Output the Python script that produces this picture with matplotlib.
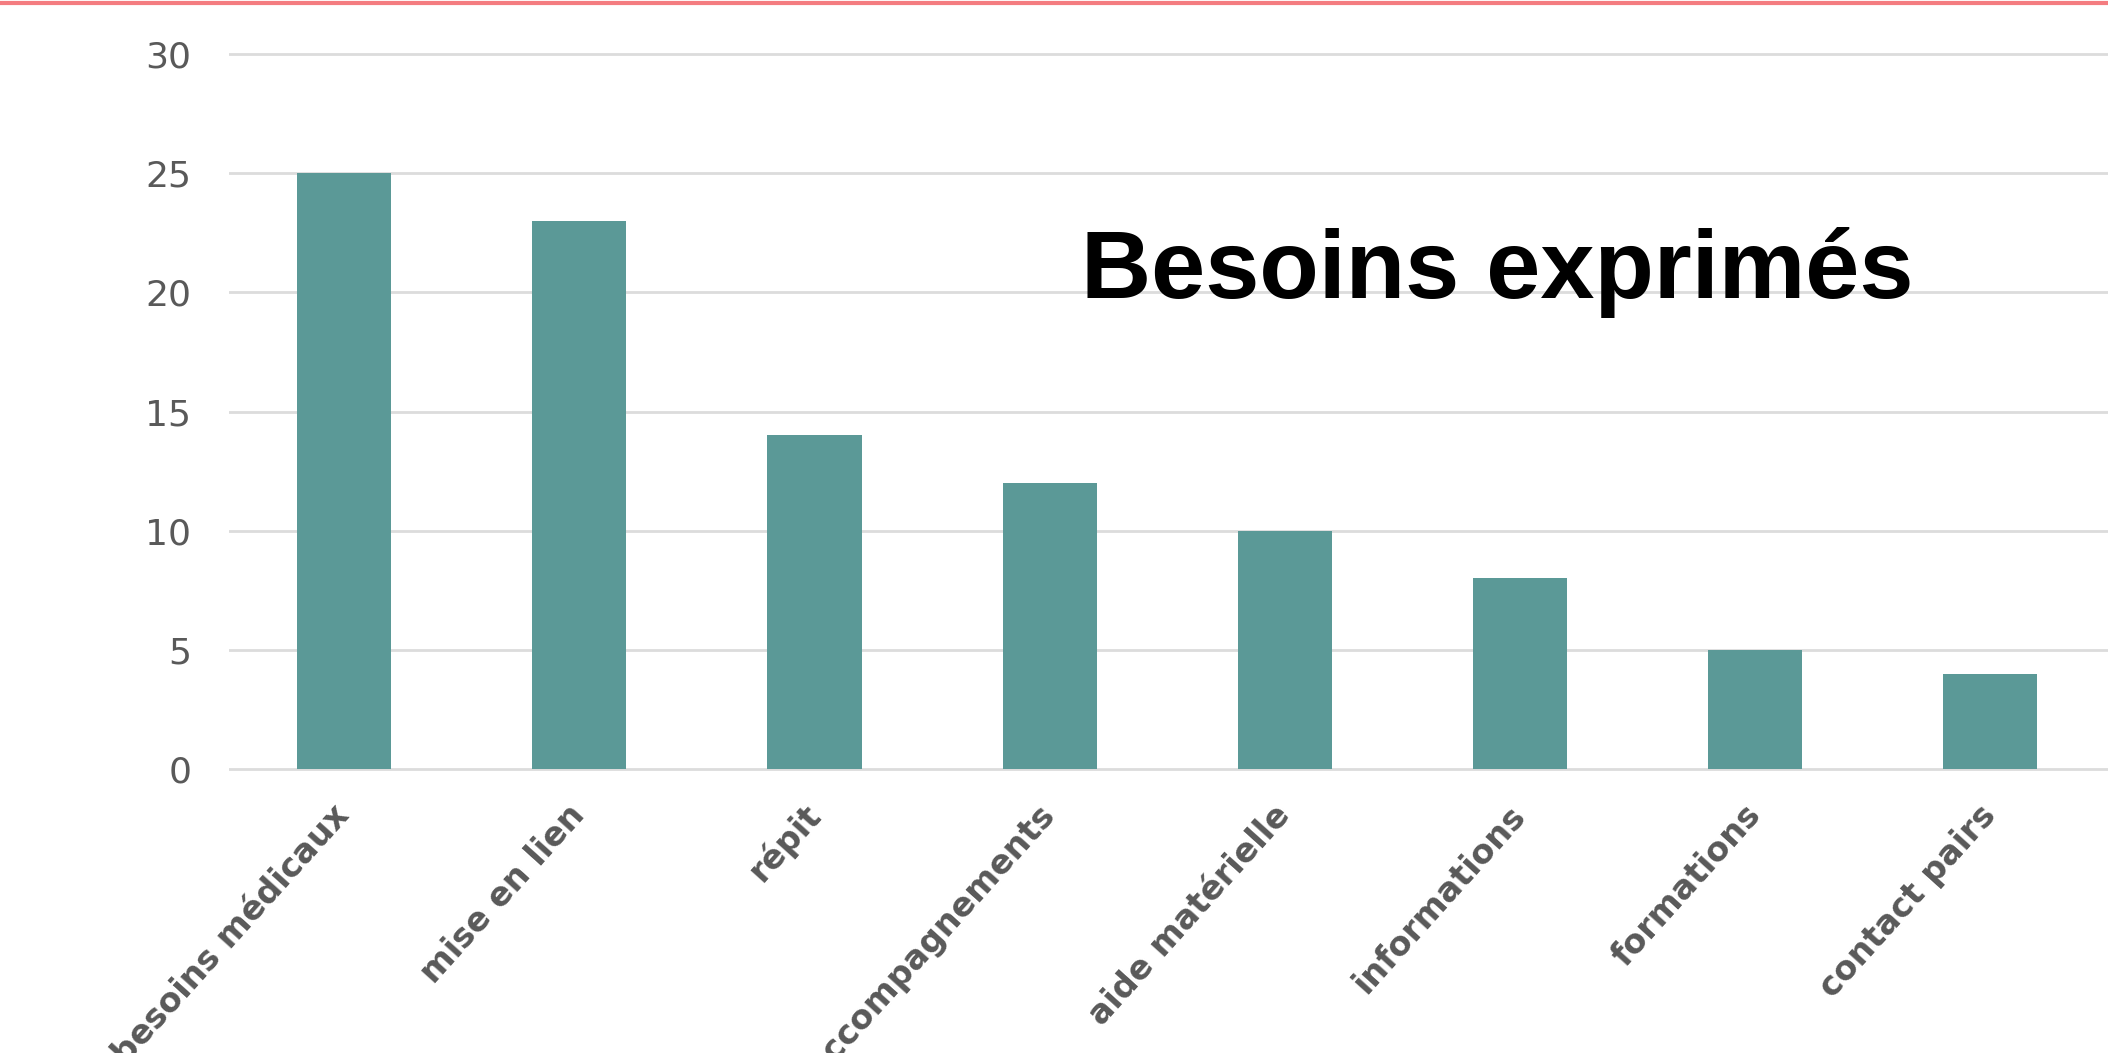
import matplotlib.pyplot as plt
from matplotlib.lines import Line2D

categories = ["besoins médicaux", "mise en lien", "répit", "accompagnements",
              "aide matérielle", "informations", "formations", "contact pairs"]
values = [25, 23, 14, 12, 10, 8, 5, 4]
y_ticks = [0, 5, 10, 15, 20, 25, 30]
title = "Besoins exprimés"

fig = plt.figure(figsize=(21.08, 10.53), dpi=100)
ax = fig.add_axes([0.1086, 0.2652, 0.8914, 0.688])

x = list(range(len(categories)))
ax.bar(x, values, width=0.4, color="#5b9997", zorder=3)

ax.set_xlim(-0.49, 7.5)
ax.set_ylim(-0.2, 30.2)
ax.set_yticks(y_ticks)
ax.set_yticklabels([str(v) for v in y_ticks], fontsize=26, color="#595959")
ax.grid(axis="y", color="#dcdcdc", linewidth=2, zorder=0)
ax.tick_params(axis="y", length=0, pad=27)
ax.tick_params(axis="x", length=0, pad=26)

ax.set_xticks(x)
ax.set_xticklabels(categories, rotation=48, ha="right", va="center",
                   rotation_mode="anchor", fontsize=24, fontweight="bold",
                   color="#595959")

for side in ["top", "right", "left", "bottom"]:
    ax.spines[side].set_visible(False)

fig.text(0.513, 0.717, title, fontsize=70, fontweight="bold",
         family=["Liberation Sans", "DejaVu Sans"], color="black",
         ha="left", va="baseline")

# red line along the top edge
fig.add_artist(Line2D([0, 1], [0.9975, 0.9975], color="#f47c80", linewidth=3,
                      transform=fig.transFigure))

fig.savefig("out.png", dpi=100)
